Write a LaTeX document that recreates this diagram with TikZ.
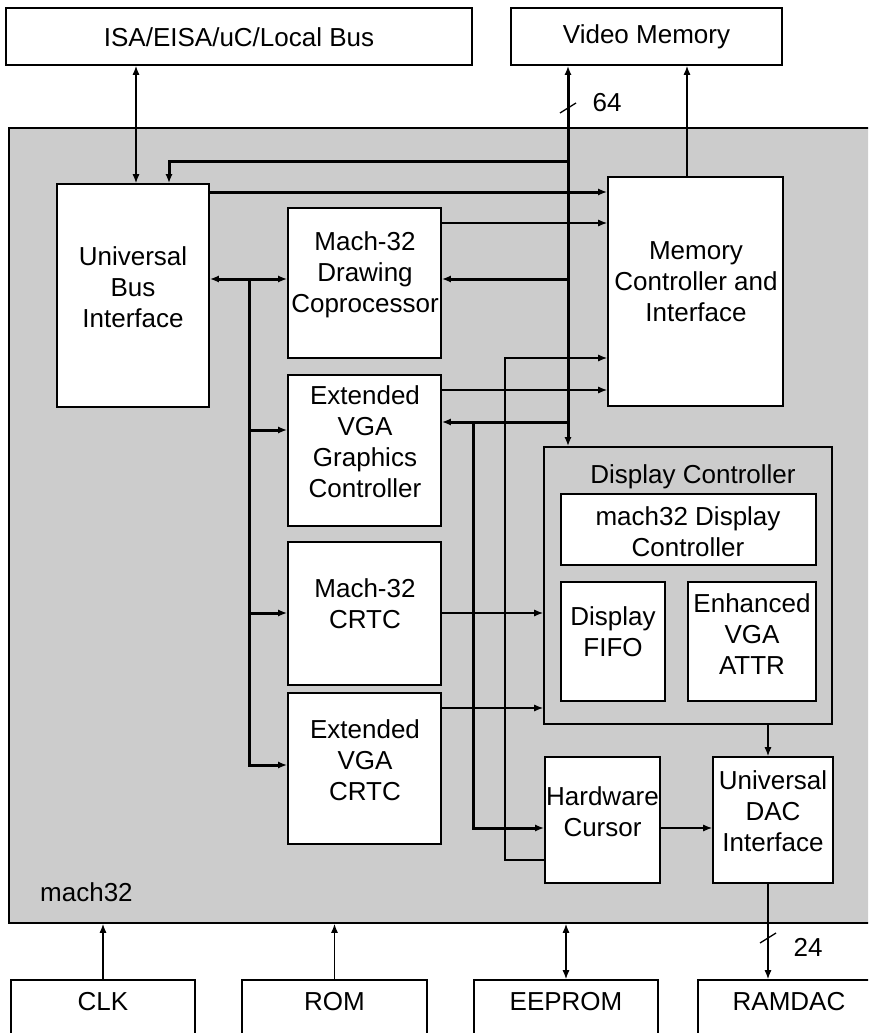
\documentclass[tikz,border=0pt]{standalone}
\usepackage{fontspec}
\setmainfont{Liberation Sans}
\usetikzlibrary{arrows.meta}

\begin{document}
\begin{tikzpicture}[x=1pt, y=-1pt,
    font=\fontsize{26}{31}\selectfont,
    >={Latex[length=9pt,width=7pt]},
    blk/.style={draw, line width=1.6pt, fill=white, inner sep=0pt},
    area/.style={draw, line width=1.6pt, fill=black!20, inner sep=0pt},
    txt/.style={align=center, inner sep=0pt},
    ln/.style={line width=1.3pt},
    bus/.style={line width=3pt}]
  % \draw[help lines] (0,0) grid (868,1033);
  \clip (0,0) rectangle (868,1033);

  \node[area, minimum width=866pt, minimum height=795pt] (chip) at (442,525.5) {};
  \node[txt, anchor=west] (chip-t) at (40,892) {mach32};

  \node[blk, minimum width=466pt, minimum height=57pt] (isa) at (239,36.5) {};
  \node[blk, minimum width=271pt, minimum height=57pt] (vm) at (646.5,36.5) {};
  \node[txt] (isa-t) at (239,37) {ISA/EISA/uC/Local Bus};
  \node[txt] (vm-t) at (646.5,37) {Video Memory};

  \node[blk, minimum width=152pt, minimum height=223pt] (ubi) at (133,295.5) {};
  \node[txt] (ubi-t) at (133,287) {Universal\\Bus\\Interface};

  \node[blk, minimum width=153pt, minimum height=150pt] (dcp) at (364.5,283) {};
  \node[blk, minimum width=153pt, minimum height=151pt] (vgagc) at (364.5,450.5) {};
  \node[blk, minimum width=153pt, minimum height=143pt] (crtc) at (364.5,613.5) {};
  \node[blk, minimum width=153pt, minimum height=151pt] (vgacrtc) at (364.5,768.5) {};
  \node[txt] (dcp-t) at (365,275) {Mach-32\\Drawing\\Coprocessor};
  \node[txt] (vgagc-t) at (365,442) {Extended\\VGA\\Graphics\\Controller};
  \node[txt] (crtc-t) at (365,604) {Mach-32\\CRTC};
  \node[txt] (vgacrtc-t) at (365,760) {Extended\\VGA\\CRTC};

  \node[blk, minimum width=175pt, minimum height=229pt] (mc) at (695.5,291.5) {};
  \node[txt] (mc-t) at (696,282) {Memory\\Controller and\\Interface};

  \node[area, minimum width=288pt, minimum height=277pt] (dc) at (688,585.5) {};
  \node[txt] (dc-t) at (693,477) {Display Controller};
  \node[blk, minimum width=255pt, minimum height=71pt] (mdc) at (688.5,529.5) {};
  \node[blk, minimum width=104pt, minimum height=119pt] (fifo) at (613,641.5) {};
  \node[blk, minimum width=128pt, minimum height=119pt] (attr) at (752,641.5) {};
  \node[txt] (mdc-t) at (688,532) {mach32 Display\\Controller};
  \node[txt] (fifo-t) at (613,632) {Display\\FIFO};
  \node[txt] (attr-t) at (752,634) {Enhanced\\VGA\\ATTR};

  \node[blk, minimum width=115pt, minimum height=126pt] (hwc) at (602.5,820) {};
  \node[blk, minimum width=120pt, minimum height=126pt] (dac) at (773,820) {};
  \node[txt] (hwc-t) at (602.5,812) {Hardware\\Cursor};
  \node[txt] (dac-t) at (773,811) {Universal\\DAC\\Interface};

  \node[blk, minimum width=184pt, minimum height=65pt] (clk) at (103,1012.5) {};
  \node[blk, minimum width=185pt, minimum height=65pt] (rom) at (334.5,1012.5) {};
  \node[blk, minimum width=184pt, minimum height=65pt] (eeprom) at (566,1012.5) {};
  \node[blk, minimum width=182pt, minimum height=65pt] (ramdac) at (789,1012.5) {};
  \node[txt] (clk-t) at (103,1002) {CLK};
  \node[txt] (rom-t) at (334.5,1002) {ROM};
  \node[txt] (eeprom-t) at (566,1002) {EEPROM};
  \node[txt] (ramdac-t) at (789,1002) {RAMDAC};

  \coordinate (xa) at (136,0);
  \coordinate (xb) at (169,0);
  \coordinate (xl) at (249,0);
  \coordinate (xh) at (473,0);
  \coordinate (xf) at (505,0);
  \coordinate (xv) at (568,0);
  \coordinate (xm) at (687,0);
  \coordinate (xd) at (768,0);

  \draw[ln,<->] (isa.south -| xa) -- (ubi.north -| xa);
  \draw[bus,<->] (vm.south -| xv) -- (dc.north -| xv);
  \draw[ln,->] (mc.north -| xm) -- (vm.south -| xm);
  \draw[ln] (xv |- 0,108) ++(-8,5) -- ++(16,-10);
  \node[txt] (w64) at (607,103) {64};

  \draw[bus,->] (xv |- 0,161) -| (ubi.north -| xb);
  \draw[bus,->] (ubi.east |- 0,192) -- (mc.west |- 0,192);
  \draw[ln,->] (dcp.east |- 0,223) -- (mc.west |- 0,223);
  \draw[bus,->] (xv |- 0,279) -- (dcp.east |- 0,279);
  \draw[bus,<->] (ubi.east |- 0,279) -- (dcp.west |- 0,279);

  \draw[bus,->] (xl |- 0,279) |- (vgacrtc.west |- 0,765);
  \draw[bus,->] (xl |- 0,430) -- (vgagc.west |- 0,430);
  \draw[bus,->] (xl |- 0,613) -- (crtc.west |- 0,613);

  \draw[ln,->] (vgagc.east |- 0,390) -- (mc.west |- 0,390);
  \draw[bus,<-] (vgagc.east |- 0,422) -- (xv |- 0,422);
  \draw[bus,->] (xh |- 0,422) |- (hwc.west |- 0,828);
  \draw[ln,->] (hwc.west |- 0,860) -| (xf |- 0,358) -- (mc.west |- 0,358);

  \draw[ln,->] (crtc.east |- 0,613) -- (dc.west |- 0,613);
  \draw[ln,->] (vgacrtc.east |- 0,708) -- (dc.west |- 0,708);
  \draw[ln,->] (dc.south -| xd) -- (dac.north -| xd);
  \draw[ln,->] (hwc.east |- 0,828) -- (dac.west |- 0,828);

  \draw[ln,->] (dac.south -| xd) -- (ramdac.north -| xd);
  \draw[ln] (xd |- 0,938) ++(-8,5) -- ++(16,-10);
  \node[txt] (w24) at (808,947) {24};

  \draw[ln,->] (clk.north) -- (chip.south -| clk.north);
  \draw[ln,->] (rom.north) -- (chip.south -| rom.north);
  \draw[ln,<->] (eeprom.north) -- (chip.south -| eeprom.north);

\end{tikzpicture}
\end{document}
